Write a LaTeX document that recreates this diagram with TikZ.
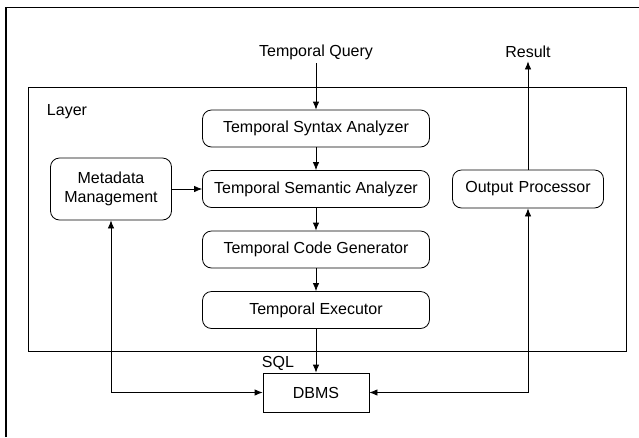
\documentclass[tikz,border=0pt]{standalone}
\usepackage{fontspec}
\setmainfont{Liberation Sans}
\usetikzlibrary{arrows.meta}

\begin{document}
\begin{tikzpicture}
  [
    x=1pt, y=-1pt,
    >={Latex[length=8pt,width=6.5pt]},
    node distance=60.5pt,
    font=\fontsize{16}{18.5}\selectfont,
    stage/.style={draw, rounded corners=9pt, line width=0.8pt, minimum width=227pt, minimum height=37pt, align=center},
    side node/.style={stage, minimum width=0pt, text width=#1, inner xsep=8pt},
    db node/.style={draw, line width=0.8pt, minimum width=106pt, minimum height=39pt},
    link/.style={line width=0.8pt}
    ]
  \useasboundingbox (0,0) rectangle (639,437);

  % frames
  \draw[line width=1.4pt] (6,437) -- (6,7.5) -- (639,7.5);
  \draw[line width=1pt] (28,87) rectangle (626,351);
  \node (layer) at (67,112) {Layer};

  \node[stage] (syn) at (316,128.5) {Temporal Syntax Analyzer};
  \node[stage] (sem) [below of=syn] {Temporal Semantic Analyzer};
  \node[stage] (gen) [below of=sem] {Temporal Code Generator};
  \node[stage] (exe) [below of=gen] {Temporal Executor};
  \node[side node=105pt, minimum height=62pt] (meta) [left of=sem, node distance=205pt] {Metadata\\Management};
  \node[side node=135pt, minimum height=38pt] (out) [right of=sem, node distance=212pt] {Output Processor};
  \node[db node] (dbms) [below of=exe, node distance=82.5pt] {DBMS};

  \node (query) [above of=syn, node distance=76pt] {Temporal Query};
  \node (result) [above of=out, node distance=137pt] {Result};
  \node (sql) at (278,363) {SQL};

  \path[->, link]
    (query) edge (syn)
    (syn) edge (sem)
    (sem) edge (gen)
    (gen) edge (exe)
    (exe) edge (dbms)
    (meta) edge (sem)
    (out) edge (result);
  \draw[<->, link] (meta) |- (dbms);
  \draw[<->, link] (out) |- (dbms);

\end{tikzpicture}
\end{document}
